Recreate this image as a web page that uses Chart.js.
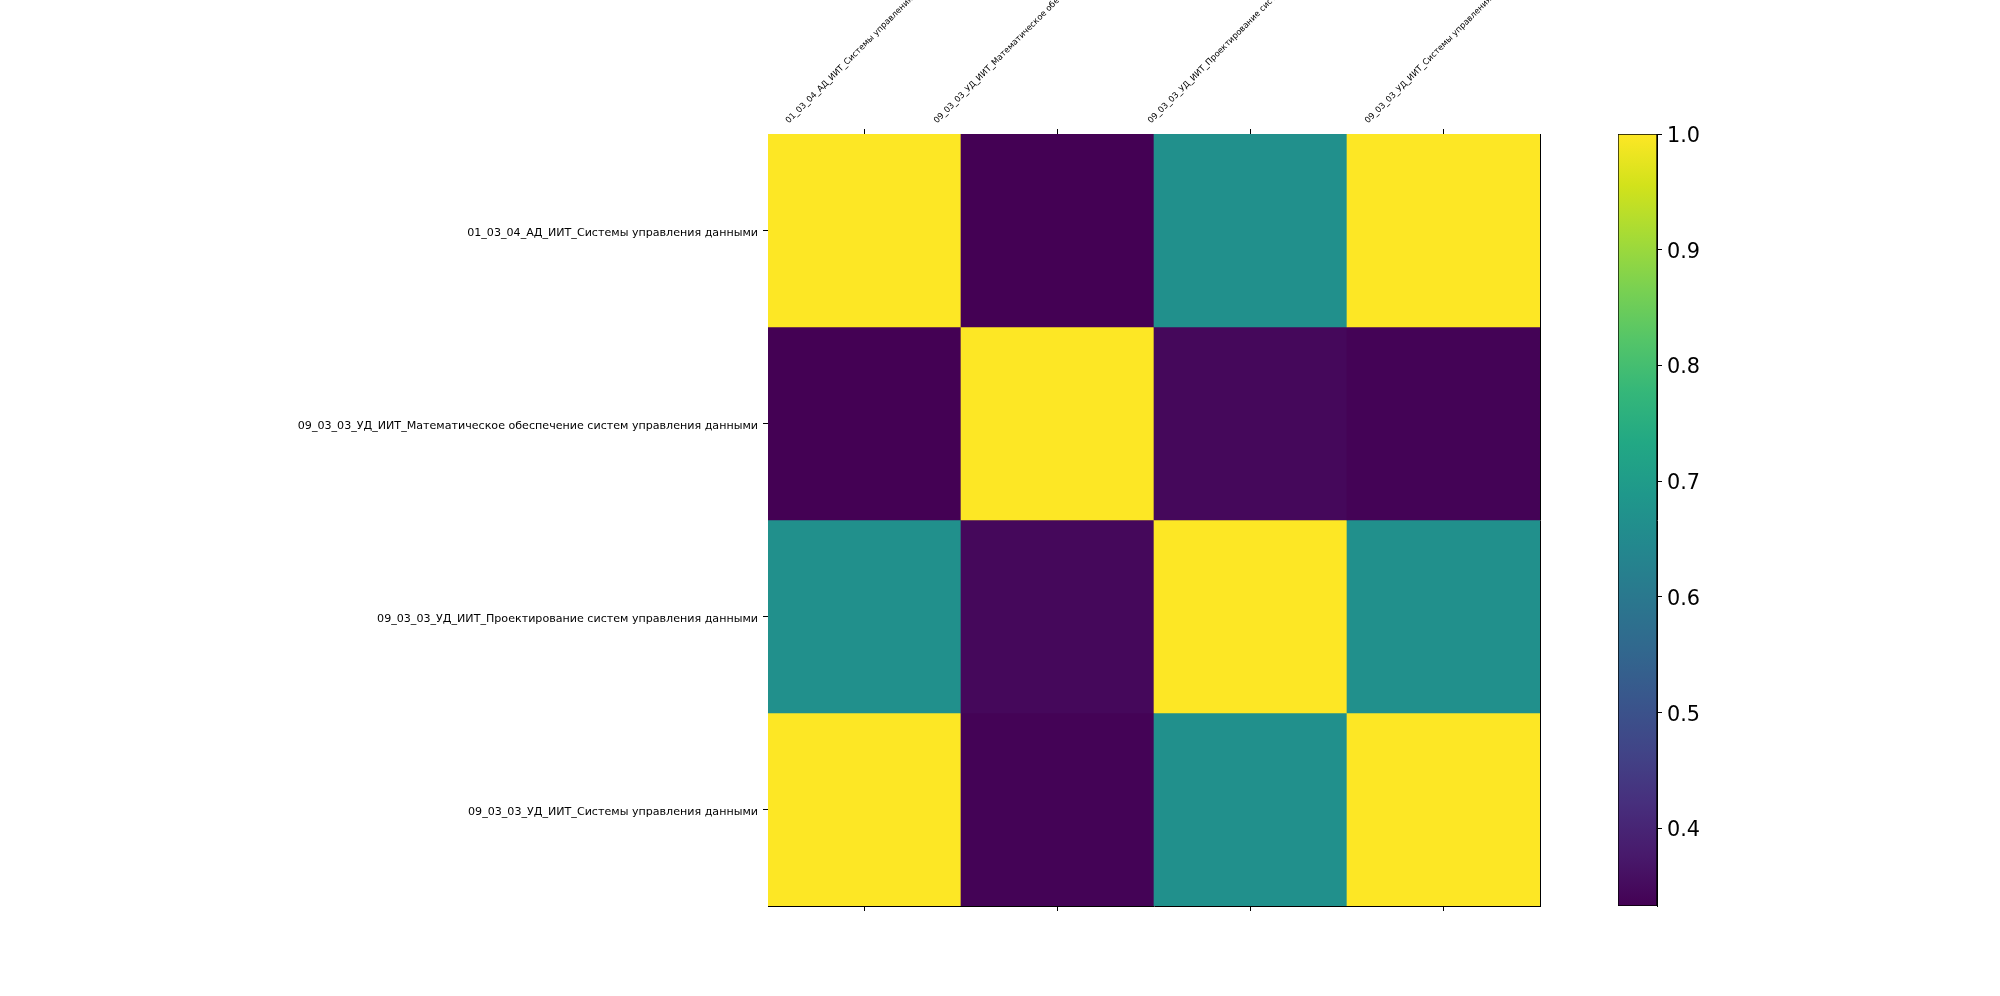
<!DOCTYPE html>
<html>
<head>
<meta charset="utf-8">
<script src="https://cdn.jsdelivr.net/npm/chart.js@4.4.1/dist/chart.umd.min.js"></script>
<style>
html,body{margin:0;padding:0;background:#fff;}
#wrap{position:relative;width:2000px;height:996px;overflow:hidden;background:#fff;}
canvas{position:absolute;top:0;}
</style>
</head>
<body>
<div id="wrap">
<canvas id="heat" width="2000" height="996" style="left:0;width:2000px;height:996px"></canvas>
<canvas id="cbar" width="300" height="996" style="left:1600px;width:300px;height:996px"></canvas>
</div>
<script>
// ---- data ----
const colLabels = [
  "01_03_04_АД_ИИТ_Системы управления данными",
  "09_03_03_УД_ИИТ_Математическое обеспечение систем управления данными",
  "09_03_03_УД_ИИТ_Проектирование систем управления данными",
  "09_03_03_УД_ИИТ_Системы управления данными"
];
const rowLabels = [
  "01_03_04_АД_ИИТ_Системы управления данными",
  "09_03_03_УД_ИИТ_Математическое обеспечение систем управления данными",
  "09_03_03_УД_ИИТ_Проектирование систем управления данными",
  "09_03_03_УД_ИИТ_Системы управления данными"
];
const row0 = [1.000, 0.333, 0.667, 1.000];
const row1 = [0.333, 1.000, 0.346, 0.337];
const row2 = [0.667, 0.346, 1.000, 0.667];
const row3 = [1.000, 0.337, 0.667, 1.000];
const rowTickValues = [0.5, 1.5, 2.5, 3.5];
const cbarTicks = [0.4, 0.5, 0.6, 0.7, 0.8, 0.9, 1.0];

// ---- colour map ----
const viridisStops = ["#440154","#481a6c","#472f7d","#414487","#39568c","#31688e","#2a788e","#23888e",
                      "#1f988b","#22a884","#35b779","#54c568","#7ad151","#a5db36","#d2e21b","#fde725"];
function hexToRgb(h){return [parseInt(h.slice(1,3),16),parseInt(h.slice(3,5),16),parseInt(h.slice(5,7),16)];}
function viridis(t){
  t = Math.max(0, Math.min(1, t));
  const n = viridisStops.length - 1;
  const p = t * n; const i = Math.min(Math.floor(p), n - 1); const f = p - i;
  const a = hexToRgb(viridisStops[i]), b = hexToRgb(viridisStops[i+1]);
  const c = a.map((v,k)=>Math.round(v + (b[k]-v)*f));
  return `rgb(${c[0]},${c[1]},${c[2]})`;
}

const matrix = [row0, row1, row2, row3];
const allVals = matrix.flat();
const vmin = Math.min(...allVals);
const vmax = Math.max(...allVals);
const norm = v => (v - vmin) / (vmax - vmin);

const FONT = "'DejaVu Sans', 'Liberation Sans', sans-serif";
Chart.defaults.font.family = FONT;
Chart.defaults.color = '#000';

// matplotlib-like rotated labels: rotated bbox centred on the tick, bottom at the pad
const centerRotatedLabels = {
  id: 'centerRotatedLabels',
  beforeDraw(chart) {
    const scale = chart.scales.x;
    const items = scale.getLabelItems(chart.chartArea);
    const ctx = chart.ctx;
    const c = Math.cos(Math.PI / 4);
    items.forEach((item, i) => {
      ctx.save();
      ctx.font = item.font.string;
      const w = ctx.measureText(item.label).width;
      ctx.restore();
      const h = item.font.size * 1.17;
      const half = (w + h) * c / 2;
      item.options.translation = [scale.getPixelForTick(i), scale.bottom - 8.5 - half];
      item.options.textAlign = 'center';
      item.options.textBaseline = 'middle';
      item.textOffset = 0;
    });
  }
};

new Chart(document.getElementById('heat'), {
  type: 'bar',
  data: {
    labels: colLabels,
    datasets: matrix.map((row, i) => ({
      data: row.map(() => [i, i + 1]),
      backgroundColor: row.map(v => viridis(norm(v))),
      borderWidth: 0,
      borderSkipped: false,
      grouped: false,
      barPercentage: 1,
      categoryPercentage: 1
    }))
  },
  options: {
    responsive: false,
    animation: false,
    events: [],
    layout: { padding: { left: 0, top: 0, right: 460, bottom: 0 } },
    plugins: { legend: { display: false }, tooltip: { enabled: false } },
    scales: {
      x: {
        type: 'category',
        position: 'top',
        offset: true,
        grid: { offset: false, drawOnChartArea: false, drawTicks: true, tickLength: 5, color: '#000', lineWidth: 1 },
        border: { display: true, color: '#000', width: 1 },
        ticks: { autoSkip: false, minRotation: 45, maxRotation: 45, padding: 5, color: '#000', font: { family: FONT, size: 8.33 } },
        afterFit: s => { s.height = 134; }
      },
      x2: {
        type: 'category',
        labels: colLabels,
        position: 'bottom',
        offset: true,
        grid: { offset: false, drawOnChartArea: false, drawTicks: true, tickLength: 5, color: '#000', lineWidth: 1 },
        border: { display: true, color: '#000', width: 1 },
        ticks: { autoSkip: false, maxRotation: 0, minRotation: 0, callback: () => '' },
        afterFit: s => { s.height = 90; }
      },
      y: {
        type: 'linear',
        position: 'left',
        min: 0,
        max: 4,
        reverse: true,
        afterBuildTicks: a => { a.ticks = rowTickValues.map(v => ({ value: v })); },
        grid: { drawOnChartArea: false, drawTicks: true, tickLength: 5, color: '#000', lineWidth: 1 },
        border: { display: true, color: '#000', width: 1 },
        ticks: { autoSkip: false, padding: 5, labelOffset: 2.5, color: '#000', font: { family: FONT, size: 11.1 },
                 callback: (v, idx) => rowLabels[idx] },
        afterFit: s => { s.width = 768; }
      },
      y2: {
        type: 'linear',
        position: 'right',
        grid: { display: false, drawTicks: false },
        ticks: { display: false },
        border: { display: true, color: '#000', width: 1 },
        afterFit: s => { s.width = 0; }
      }
    }
  },
  plugins: [centerRotatedLabels]
});

// ---- colour bar ----
new Chart(document.getElementById('cbar'), {
  type: 'bar',
  data: {
    labels: [''],
    datasets: [{
      data: [[vmin, vmax]],
      backgroundColor: (ctx) => {
        const area = ctx.chart.chartArea;
        if (!area) return viridis(0.5);
        const g = ctx.chart.ctx.createLinearGradient(0, area.bottom, 0, area.top);
        viridisStops.forEach((c, i) => g.addColorStop(i / (viridisStops.length - 1), c));
        return g;
      },
      borderColor: '#000',
      borderWidth: 1,
      borderSkipped: false,
      barPercentage: 1,
      categoryPercentage: 1
    }]
  },
  options: {
    responsive: false,
    animation: false,
    events: [],
    layout: { padding: { left: 18, top: 134, bottom: 90, right: 0 } },
    plugins: { legend: { display: false }, tooltip: { enabled: false } },
    scales: {
      x: { display: false, offset: true },
      y: {
        position: 'right',
        min: vmin,
        max: vmax,
        afterBuildTicks: a => { a.ticks = cbarTicks.map(v => ({ value: v })); },
        grid: { drawOnChartArea: false, drawTicks: true, tickLength: 5, color: '#000', lineWidth: 1 },
        border: { display: true, color: '#000', width: 1 },
        ticks: { autoSkip: false, padding: 5, labelOffset: 2.5, color: '#000', font: { family: FONT, size: 20.8 },
                 callback: v => Number(v).toFixed(1) },
        afterFit: s => { s.width = 300 - 57; }
      }
    }
  }
});
</script>
</body>
</html>
